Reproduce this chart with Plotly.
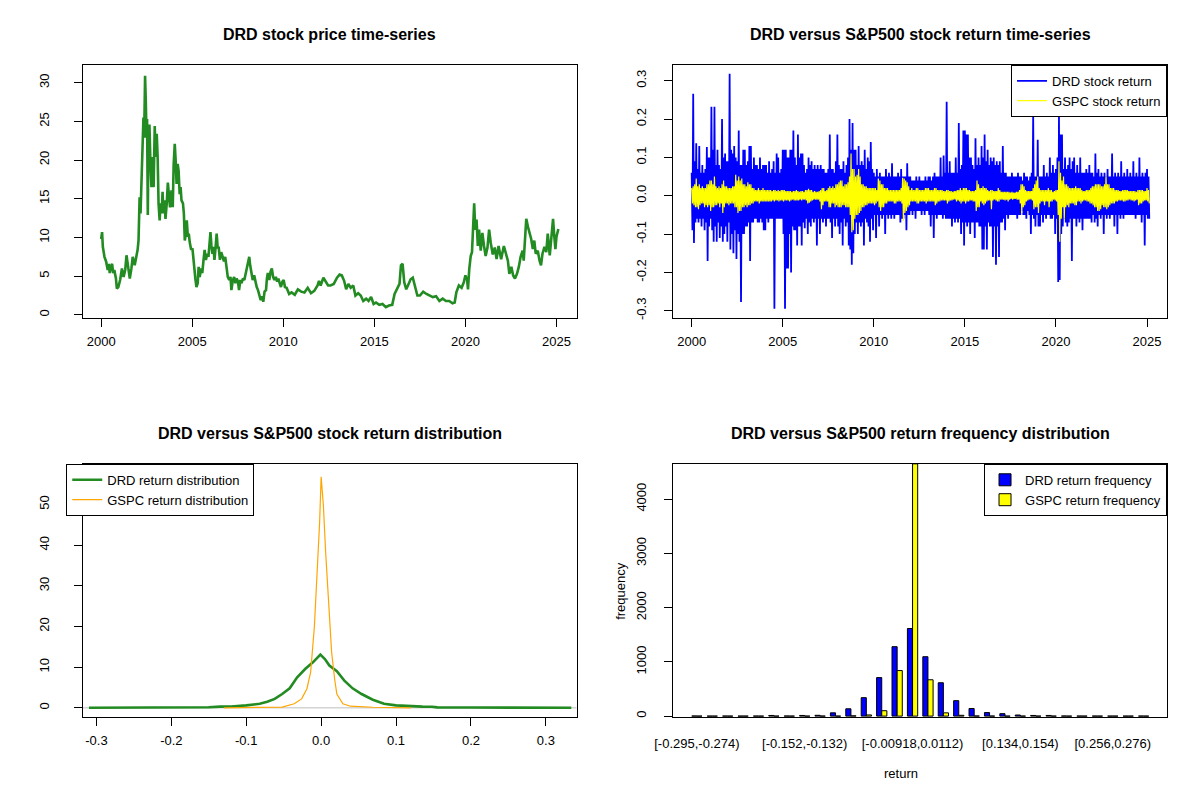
import plotly.graph_objects as go

FONT = "Liberation Sans, Arial, sans-serif"

# ---- DRD closing price (decimal years) ----
price_years = [
    2000.00, 2000.05, 2000.09, 2000.18, 2000.27, 2000.36, 2000.42, 2000.47, 2000.54, 2000.60,
    2000.66, 2000.72, 2000.81, 2000.86, 2000.94, 2001.04, 2001.14, 2001.23, 2001.32, 2001.39,
    2001.48, 2001.57, 2001.66, 2001.73, 2001.84, 2001.93, 2002.00, 2002.05, 2002.11, 2002.16,
    2002.22, 2002.27, 2002.32, 2002.36, 2002.41, 2002.45, 2002.49, 2002.52, 2002.56, 2002.59,
    2002.65, 2002.70, 2002.76, 2002.83, 2002.88, 2002.94, 2002.99, 2003.05, 2003.10, 2003.15,
    2003.21, 2003.26, 2003.32, 2003.37, 2003.42, 2003.48, 2003.53, 2003.60, 2003.66, 2003.73,
    2003.78, 2003.86, 2003.93, 2003.98, 2004.04, 2004.09, 2004.14, 2004.20, 2004.25, 2004.31,
    2004.36, 2004.41, 2004.49, 2004.54, 2004.59, 2004.65, 2004.70, 2004.76, 2004.81, 2004.86,
    2004.94, 2005.01, 2005.06, 2005.12, 2005.17, 2005.23, 2005.30, 2005.35, 2005.41, 2005.48,
    2005.55, 2005.62, 2005.68, 2005.75, 2005.82, 2005.89, 2005.95, 2006.00, 2006.05, 2006.11,
    2006.16, 2006.22, 2006.27, 2006.34, 2006.40, 2006.45, 2006.52, 2006.59, 2006.67, 2006.74,
    2006.81, 2006.88, 2006.95, 2007.03, 2007.10, 2007.15, 2007.23, 2007.30, 2007.37, 2007.44,
    2007.51, 2007.57, 2007.64, 2007.71, 2007.78, 2007.86, 2007.93, 2008.00, 2008.07, 2008.13,
    2008.18, 2008.25, 2008.32, 2008.40, 2008.47, 2008.54, 2008.61, 2008.68, 2008.76, 2008.83,
    2008.90, 2008.97, 2009.05, 2009.10, 2009.15, 2009.23, 2009.30, 2009.37, 2009.44, 2009.51,
    2009.59, 2009.66, 2009.73, 2009.80, 2009.87, 2009.95, 2010.02, 2010.09, 2010.18, 2010.32,
    2010.45, 2010.63, 2010.80, 2010.98, 2011.16, 2011.34, 2011.52, 2011.70, 2011.88, 2011.96,
    2012.05, 2012.20, 2012.32, 2012.46, 2012.59, 2012.77, 2012.95, 2013.09, 2013.21, 2013.34,
    2013.45, 2013.57, 2013.70, 2013.84, 2013.96, 2014.11, 2014.25, 2014.39, 2014.55, 2014.68,
    2014.82, 2014.96, 2015.09, 2015.27, 2015.45, 2015.63, 2015.80, 2015.98, 2016.11, 2016.25,
    2016.38, 2016.46, 2016.55, 2016.64, 2016.75, 2016.88, 2016.99, 2017.11, 2017.23, 2017.36,
    2017.50, 2017.68, 2017.86, 2018.04, 2018.21, 2018.39, 2018.57, 2018.75, 2018.93, 2019.11,
    2019.29, 2019.41, 2019.50, 2019.64, 2019.79, 2019.91, 2020.00, 2020.09, 2020.14, 2020.21,
    2020.29, 2020.36, 2020.43, 2020.48, 2020.54, 2020.61, 2020.68, 2020.75, 2020.84, 2020.93,
    2021.02, 2021.11, 2021.21, 2021.30, 2021.39, 2021.50, 2021.61, 2021.71, 2021.82, 2021.96,
    2022.11, 2022.23, 2022.33, 2022.41, 2022.52, 2022.62, 2022.72, 2022.83, 2022.93, 2023.03,
    2023.14, 2023.20, 2023.28, 2023.34, 2023.43, 2023.51, 2023.61, 2023.70, 2023.78, 2023.86,
    2023.97, 2024.07, 2024.15, 2024.23, 2024.34, 2024.44, 2024.52, 2024.63, 2024.73, 2024.81,
    2024.88, 2024.94, 2025.00, 2025.10,
]
price_values = [
    9.8, 10.7, 8.8, 7.5, 6.9, 5.8, 6.6, 5.4, 6.2, 6.6,
    5.4, 5.8, 4.7, 3.4, 3.6, 4.5, 6.0, 4.9, 5.8, 7.7,
    6.2, 4.7, 6.0, 7.5, 6.4, 7.3, 8.4, 9.6, 15.2, 13.1,
    18.0, 21.6, 25.5, 22.9, 30.9, 27.6, 22.9, 25.3, 12.9, 21.6,
    24.6, 19.9, 16.5, 20.4, 16.5, 24.4, 20.4, 23.4, 20.4, 14.4,
    12.2, 14.4, 13.1, 15.9, 13.1, 14.8, 12.4, 14.4, 17.1, 15.2,
    13.9, 16.1, 13.9, 19.5, 22.1, 19.9, 16.9, 19.5, 18.6, 15.6,
    16.5, 14.8, 14.4, 13.1, 9.6, 10.5, 12.2, 10.1, 10.5, 9.4,
    8.4, 8.6, 7.1, 5.8, 4.7, 3.6, 4.1, 6.2, 4.9, 6.0,
    5.4, 7.1, 8.4, 7.1, 7.9, 7.5, 8.8, 10.7, 9.0, 7.9,
    8.8, 7.1, 8.4, 10.5, 8.6, 8.8, 7.1, 8.1, 7.5, 6.9,
    7.5, 6.2, 4.9, 4.5, 4.9, 3.2, 4.5, 4.9, 4.1, 4.7,
    4.3, 3.2, 4.5, 4.1, 4.7, 4.5, 5.4, 6.0, 6.9, 7.5,
    6.4, 5.4, 4.5, 5.1, 4.3, 3.6, 3.2, 2.6, 1.9, 2.4,
    1.7, 3.0, 3.2, 4.7, 5.4, 4.5, 5.6, 6.0, 4.9, 4.5,
    4.9, 4.3, 4.7, 4.1, 3.6, 4.3, 4.5, 3.6, 3.5, 2.7,
    2.9, 2.6, 3.3, 3.0, 2.9, 3.5, 2.8, 3.1, 3.8, 4.4,
    3.8, 4.8, 4.3, 3.8, 3.8, 4.0, 4.8, 5.2, 5.1, 4.4,
    3.3, 4.0, 3.5, 3.8, 2.5, 2.8, 2.5, 1.8, 2.1, 1.8,
    2.3, 1.4, 1.6, 1.3, 1.4, 1.0, 1.2, 1.3, 2.7, 3.3,
    4.0, 6.4, 6.6, 4.2, 3.3, 4.0, 4.6, 4.8, 3.8, 2.5,
    2.5, 3.0, 2.7, 2.5, 2.3, 2.4, 1.8, 2.1, 1.8, 1.8,
    1.5, 1.6, 2.9, 3.8, 3.5, 4.2, 5.1, 4.6, 3.3, 5.9,
    7.6, 8.1, 11.5, 14.4, 11.0, 12.3, 8.9, 11.0, 8.3, 10.6,
    8.9, 7.6, 8.7, 11.0, 9.3, 7.8, 8.7, 7.2, 8.9, 7.2,
    8.9, 7.8, 7.0, 5.3, 6.2, 5.1, 4.7, 5.3, 6.2, 7.5,
    8.3, 7.0, 10.5, 12.4, 11.4, 10.7, 9.8, 8.5, 9.6, 7.9,
    8.3, 7.0, 6.4, 7.9, 8.8, 8.1, 10.5, 7.7, 10.9, 12.4,
    10.1, 8.5, 10.1, 11.1,
]

# ---- daily returns: highest and lowest reading in each month, Jan 2000 onward ----
return_start = 2000
drd_month_high = [
    0.06, 0.266, 0.09, 0.137, 0.07, 0.13, 0.06, 0.08, 0.06, 0.07, 0.127, 0.1,
    0.1, 0.232, 0.12, 0.232, 0.08, 0.12, 0.08, 0.07, 0.2, 0.1, 0.11, 0.09,
    0.09, 0.318, 0.12, 0.11, 0.13, 0.1, 0.09, 0.17, 0.08, 0.08, 0.12, 0.12,
    0.08, 0.09, 0.13, 0.13, 0.07, 0.1, 0.08, 0.08, 0.07, 0.1, 0.07, 0.08,
    0.08, 0.08, 0.06, 0.09, 0.06, 0.07, 0.09, 0.06, 0.11, 0.1, 0.06, 0.07,
    0.12, 0.12, 0.12, 0.1, 0.1, 0.12, 0.12, 0.17, 0.1, 0.08, 0.16, 0.1,
    0.11, 0.11, 0.08, 0.06, 0.07, 0.1, 0.08, 0.09, 0.07, 0.08, 0.07, 0.08,
    0.07, 0.08, 0.07, 0.07, 0.06, 0.06, 0.07, 0.16, 0.07, 0.07, 0.06, 0.09,
    0.16, 0.08, 0.07, 0.07, 0.09, 0.06, 0.08, 0.1, 0.2, 0.12, 0.19, 0.12,
    0.12, 0.08, 0.13, 0.08, 0.09, 0.08, 0.12, 0.07, 0.1, 0.09, 0.14, 0.07,
    0.06, 0.05, 0.07, 0.05, 0.06, 0.05, 0.05, 0.05, 0.07, 0.05, 0.06, 0.05,
    0.085, 0.05, 0.05, 0.05, 0.06, 0.05, 0.07, 0.05, 0.05, 0.05, 0.085, 0.05,
    0.05, 0.04, 0.04, 0.04, 0.05, 0.04, 0.05, 0.04, 0.04, 0.04, 0.05, 0.04,
    0.05, 0.05, 0.04, 0.05, 0.06, 0.05, 0.05, 0.05, 0.1, 0.05, 0.105, 0.06,
    0.245, 0.06, 0.09, 0.06, 0.06, 0.06, 0.1, 0.06, 0.19, 0.07, 0.08, 0.17,
    0.17, 0.16, 0.16, 0.1, 0.1, 0.08, 0.07, 0.15, 0.08, 0.1, 0.08, 0.13,
    0.1, 0.16, 0.09, 0.12, 0.08, 0.1, 0.09, 0.1, 0.08, 0.09, 0.08, 0.09,
    0.06, 0.13, 0.06, 0.06, 0.05, 0.05, 0.05, 0.06, 0.05, 0.05, 0.05, 0.06,
    0.05, 0.05, 0.04, 0.06, 0.05, 0.05, 0.04, 0.05, 0.06, 0.21, 0.05, 0.05,
    0.146, 0.05, 0.05, 0.05, 0.08, 0.05, 0.06, 0.05, 0.1, 0.06, 0.08, 0.06,
    0.07, 0.1, 0.21, 0.16, 0.16, 0.07, 0.1, 0.07, 0.08, 0.1, 0.07, 0.09,
    0.1, 0.06, 0.08, 0.06, 0.1, 0.06, 0.06, 0.06, 0.07, 0.06, 0.08, 0.06,
    0.06, 0.05, 0.11, 0.06, 0.07, 0.05, 0.06, 0.05, 0.06, 0.05, 0.07, 0.05,
    0.05, 0.11, 0.05, 0.06, 0.05, 0.06, 0.05, 0.09, 0.05, 0.06, 0.05, 0.07,
    0.05, 0.06, 0.05, 0.09, 0.05, 0.06, 0.05, 0.1, 0.05, 0.06, 0.05, 0.06,
    0.07, 0.05,
]
drd_month_low = [
    -0.09, -0.123, -0.07, -0.06, -0.07, -0.06, -0.08, -0.06, -0.09, -0.07, -0.17, -0.08,
    -0.06, -0.09, -0.12, -0.08, -0.12, -0.07, -0.11, -0.08, -0.12, -0.1, -0.08, -0.12,
    -0.07, -0.14, -0.1, -0.15, -0.09, -0.165, -0.1, -0.12, -0.277, -0.1, -0.1, -0.08,
    -0.08, -0.07, -0.17, -0.07, -0.07, -0.06, -0.06, -0.07, -0.07, -0.06, -0.07, -0.09,
    -0.09, -0.06, -0.07, -0.06, -0.06, -0.06, -0.295, -0.06, -0.06, -0.06, -0.06, -0.06,
    -0.1, -0.295, -0.19, -0.19, -0.1, -0.2, -0.08, -0.09, -0.09, -0.13, -0.08, -0.08,
    -0.13, -0.07, -0.085, -0.06, -0.1, -0.07, -0.08, -0.06, -0.07, -0.06, -0.13, -0.06,
    -0.1, -0.06, -0.07, -0.06, -0.08, -0.06, -0.06, -0.07, -0.11, -0.06, -0.08, -0.06,
    -0.08, -0.1, -0.07, -0.13, -0.06, -0.08, -0.07, -0.13, -0.14, -0.18, -0.15, -0.1,
    -0.07, -0.1, -0.07, -0.08, -0.07, -0.13, -0.06, -0.07, -0.08, -0.12, -0.06, -0.09,
    -0.05, -0.11, -0.05, -0.08, -0.05, -0.06, -0.05, -0.1, -0.05, -0.06, -0.05, -0.06,
    -0.05, -0.06, -0.05, -0.05, -0.05, -0.07, -0.06, -0.06, -0.05, -0.09, -0.05, -0.05,
    -0.04, -0.05, -0.04, -0.06, -0.04, -0.04, -0.04, -0.05, -0.04, -0.05, -0.04, -0.04,
    -0.05, -0.08, -0.05, -0.11, -0.05, -0.06, -0.05, -0.05, -0.05, -0.06, -0.05, -0.06,
    -0.06, -0.06, -0.06, -0.08, -0.06, -0.07, -0.06, -0.07, -0.06, -0.1, -0.07, -0.13,
    -0.07, -0.08, -0.07, -0.1, -0.07, -0.07, -0.11, -0.07, -0.07, -0.08, -0.08, -0.14,
    -0.14, -0.08, -0.14, -0.07, -0.08, -0.08, -0.16, -0.08, -0.18, -0.08, -0.16, -0.07,
    -0.07, -0.06, -0.09, -0.05, -0.06, -0.05, -0.05, -0.05, -0.05, -0.05, -0.06, -0.05,
    -0.05, -0.04, -0.05, -0.05, -0.06, -0.04, -0.05, -0.1, -0.05, -0.06, -0.08, -0.05,
    -0.08, -0.08, -0.05, -0.07, -0.05, -0.06, -0.05, -0.05, -0.06, -0.06, -0.05, -0.1,
    -0.06, -0.225, -0.22, -0.1, -0.08, -0.06, -0.07, -0.08, -0.07, -0.06, -0.17, -0.06,
    -0.06, -0.08, -0.06, -0.07, -0.06, -0.09, -0.06, -0.06, -0.06, -0.06, -0.06, -0.07,
    -0.05, -0.07, -0.06, -0.08, -0.05, -0.06, -0.05, -0.1, -0.05, -0.06, -0.05, -0.06,
    -0.05, -0.05, -0.08, -0.05, -0.1, -0.05, -0.06, -0.05, -0.06, -0.05, -0.05, -0.05,
    -0.05, -0.05, -0.05, -0.05, -0.06, -0.05, -0.05, -0.05, -0.07, -0.05, -0.13, -0.05,
    -0.06, -0.06,
]
gspc_month_high = [
    0.02, 0.025, 0.03, 0.045, 0.025, 0.03, 0.02, 0.025, 0.02, 0.02, 0.03, 0.03,
    0.04, 0.04, 0.03, 0.05, 0.025, 0.02, 0.025, 0.02, 0.03, 0.04, 0.025, 0.025,
    0.02, 0.02, 0.02, 0.025, 0.025, 0.055, 0.04, 0.05, 0.04, 0.045, 0.03, 0.03,
    0.025, 0.035, 0.03, 0.03, 0.02, 0.02, 0.015, 0.015, 0.02, 0.015, 0.015, 0.02,
    0.015, 0.015, 0.015, 0.015, 0.015, 0.012, 0.015, 0.015, 0.012, 0.015, 0.012, 0.015,
    0.015, 0.015, 0.012, 0.012, 0.012, 0.012, 0.01, 0.012, 0.012, 0.015, 0.012, 0.01,
    0.012, 0.012, 0.01, 0.015, 0.015, 0.018, 0.015, 0.015, 0.01, 0.012, 0.01, 0.01,
    0.012, 0.015, 0.02, 0.02, 0.012, 0.015, 0.02, 0.025, 0.02, 0.025, 0.02, 0.03,
    0.03, 0.035, 0.04, 0.04, 0.025, 0.03, 0.03, 0.035, 0.05, 0.11, 0.07, 0.07,
    0.05, 0.055, 0.07, 0.05, 0.03, 0.03, 0.025, 0.025, 0.02, 0.02, 0.02, 0.02,
    0.02, 0.02, 0.015, 0.045, 0.04, 0.03, 0.03, 0.02, 0.02, 0.02, 0.015, 0.015,
    0.015, 0.015, 0.015, 0.015, 0.015, 0.015, 0.02, 0.047, 0.045, 0.04, 0.035, 0.025,
    0.015, 0.02, 0.015, 0.015, 0.02, 0.02, 0.015, 0.015, 0.015, 0.015, 0.02, 0.02,
    0.02, 0.015, 0.015, 0.015, 0.02, 0.02, 0.015, 0.015, 0.015, 0.015, 0.012, 0.012,
    0.015, 0.015, 0.012, 0.012, 0.01, 0.012, 0.012, 0.015, 0.015, 0.02, 0.015, 0.02,
    0.02, 0.02, 0.015, 0.015, 0.012, 0.012, 0.012, 0.015, 0.04, 0.03, 0.02, 0.02,
    0.025, 0.02, 0.02, 0.015, 0.012, 0.015, 0.015, 0.012, 0.012, 0.012, 0.02, 0.015,
    0.01, 0.01, 0.01, 0.01, 0.01, 0.01, 0.008, 0.01, 0.008, 0.008, 0.01, 0.01,
    0.015, 0.03, 0.03, 0.025, 0.015, 0.012, 0.012, 0.012, 0.012, 0.02, 0.03, 0.04,
    0.05, 0.02, 0.015, 0.015, 0.015, 0.015, 0.015, 0.02, 0.015, 0.015, 0.01, 0.012,
    0.015, 0.015, 0.09, 0.06, 0.04, 0.05, 0.03, 0.03, 0.025, 0.02, 0.02, 0.02,
    0.02, 0.025, 0.02, 0.02, 0.02, 0.015, 0.012, 0.012, 0.015, 0.015, 0.015, 0.02,
    0.025, 0.025, 0.03, 0.03, 0.03, 0.03, 0.025, 0.025, 0.03, 0.05, 0.03, 0.03,
    0.02, 0.02, 0.02, 0.015, 0.015, 0.015, 0.012, 0.012, 0.015, 0.015, 0.015, 0.015,
    0.012, 0.012, 0.012, 0.012, 0.012, 0.01, 0.015, 0.015, 0.015, 0.015, 0.012, 0.012,
    0.02, 0.015,
]
gspc_month_low = [
    -0.02, -0.025, -0.03, -0.03, -0.035, -0.025, -0.02, -0.02, -0.03, -0.025, -0.03, -0.025,
    -0.04, -0.03, -0.03, -0.025, -0.025, -0.02, -0.03, -0.02, -0.045, -0.03, -0.02, -0.02,
    -0.025, -0.02, -0.02, -0.02, -0.03, -0.03, -0.045, -0.04, -0.04, -0.03, -0.03, -0.025,
    -0.03, -0.025, -0.025, -0.02, -0.02, -0.015, -0.015, -0.015, -0.02, -0.015, -0.015, -0.015,
    -0.015, -0.015, -0.015, -0.015, -0.015, -0.012, -0.015, -0.012, -0.012, -0.015, -0.012, -0.012,
    -0.015, -0.012, -0.012, -0.012, -0.015, -0.012, -0.01, -0.012, -0.012, -0.012, -0.012, -0.01,
    -0.012, -0.01, -0.01, -0.012, -0.02, -0.018, -0.015, -0.012, -0.01, -0.01, -0.01, -0.01,
    -0.015, -0.035, -0.025, -0.015, -0.015, -0.015, -0.03, -0.03, -0.02, -0.02, -0.03, -0.025,
    -0.03, -0.03, -0.03, -0.025, -0.025, -0.03, -0.03, -0.03, -0.05, -0.095, -0.09, -0.06,
    -0.05, -0.05, -0.045, -0.04, -0.03, -0.03, -0.025, -0.025, -0.02, -0.02, -0.02, -0.02,
    -0.025, -0.02, -0.015, -0.03, -0.04, -0.03, -0.03, -0.02, -0.02, -0.015, -0.015, -0.015,
    -0.015, -0.02, -0.02, -0.015, -0.015, -0.015, -0.02, -0.065, -0.045, -0.04, -0.03, -0.025,
    -0.015, -0.015, -0.015, -0.015, -0.02, -0.02, -0.015, -0.015, -0.015, -0.015, -0.02, -0.015,
    -0.015, -0.015, -0.015, -0.015, -0.025, -0.02, -0.015, -0.015, -0.012, -0.012, -0.012, -0.012,
    -0.02, -0.015, -0.012, -0.012, -0.01, -0.01, -0.015, -0.012, -0.015, -0.02, -0.015, -0.015,
    -0.02, -0.015, -0.015, -0.012, -0.012, -0.015, -0.015, -0.04, -0.03, -0.03, -0.015, -0.02,
    -0.025, -0.02, -0.015, -0.012, -0.012, -0.035, -0.012, -0.01, -0.012, -0.015, -0.015, -0.01,
    -0.01, -0.01, -0.012, -0.01, -0.015, -0.01, -0.008, -0.01, -0.008, -0.008, -0.01, -0.01,
    -0.02, -0.045, -0.03, -0.025, -0.015, -0.012, -0.01, -0.01, -0.012, -0.035, -0.03, -0.03,
    -0.045, -0.02, -0.015, -0.015, -0.025, -0.015, -0.015, -0.03, -0.015, -0.015, -0.01, -0.012,
    -0.015, -0.05, -0.12, -0.06, -0.03, -0.06, -0.03, -0.025, -0.03, -0.02, -0.02, -0.02,
    -0.025, -0.025, -0.015, -0.015, -0.02, -0.015, -0.012, -0.012, -0.015, -0.015, -0.02, -0.02,
    -0.025, -0.03, -0.03, -0.04, -0.04, -0.035, -0.025, -0.03, -0.03, -0.035, -0.03, -0.025,
    -0.02, -0.02, -0.02, -0.015, -0.015, -0.012, -0.012, -0.012, -0.015, -0.015, -0.012, -0.012,
    -0.01, -0.012, -0.012, -0.015, -0.012, -0.01, -0.025, -0.02, -0.02, -0.015, -0.012, -0.012,
    -0.015, -0.02,
]

# ---- kernel density readings ----
drd_density_x = [-0.31, -0.25, -0.2, -0.15, -0.135, -0.12, -0.1, -0.09, -0.082, -0.072,
                 -0.062, -0.052, -0.042, -0.032, -0.021, -0.011, -0.001, 0.005, 0.011,
                 0.021, 0.031, 0.042, 0.054, 0.069, 0.084, 0.1, 0.11, 0.12, 0.135, 0.148,
                 0.155, 0.2, 0.25, 0.334]
drd_density_y = [0.02, 0.05, 0.08, 0.15, 0.3, 0.35, 0.6, 0.75, 1.0, 1.5,
                 2.2, 3.4, 4.8, 7.5, 9.6, 11.2, 13.1, 12.0, 10.4,
                 9.0, 6.7, 4.8, 3.4, 2.0, 1.0, 0.6, 0.5, 0.35, 0.3, 0.28,
                 0.12, 0.08, 0.05, 0.02]
gspc_density_x = [-0.13, -0.094, -0.052, -0.036, -0.026, -0.019, -0.014, -0.009, -0.005,
                  -0.002, 0.0, 0.003, 0.006, 0.01, 0.014, 0.018, 0.021, 0.029, 0.039,
                  0.069, 0.092, 0.12]
gspc_density_y = [0.0, 0.1, 0.2, 1.0, 2.2, 4.7, 8.8, 20.0, 33.0,
                  45.7, 56.8, 49.8, 38.3, 24.3, 13.7, 7.1, 3.4, 1.0, 0.4,
                  0.15, 0.05, 0.0]

# ---- return frequency by bin ----
bin_edges = ["-0.295", "-0.274", "-0.254", "-0.234", "-0.213", "-0.193", "-0.172", "-0.152",
             "-0.132", "-0.111", "-0.0908", "-0.0704", "-0.05", "-0.0296", "-0.00918",
             "0.0112", "0.0316", "0.052", "0.0724", "0.0928", "0.113", "0.134", "0.154",
             "0.174", "0.195", "0.215", "0.236", "0.256", "0.276", "0.297", "0.317"]
drd_freq = [2, 0, 1, 0, 1, 12, 2, 12, 15, 60, 135, 340, 710, 1280, 1615,
            1095, 615, 285, 140, 65, 45, 20, 12, 12, 2, 1, 1, 0, 0, 1]
gspc_freq = [0, 0, 0, 0, 0, 0, 0, 0, 1, 0, 5, 22, 100, 840, 4650,
             670, 60, 15, 3, 1, 0, 0, 0, 0, 0, 0, 0, 0, 0, 0]
shown_bins = [0, 7, 14, 21, 27]

bin_labels = []
for i in range(len(bin_edges) - 1):
    close = "]" if i == len(bin_edges) - 2 else ")"
    bin_labels.append("[" + bin_edges[i] + "," + bin_edges[i + 1] + close)


def month_path(highs, lows):
    # high early in the month, low in the second half -> the dense band of daily returns
    xs, ys = [], []
    for i, (hi, lo) in enumerate(zip(highs, lows)):
        xs += [return_start + i / 12, return_start + (i + 0.5) / 12]
        ys += [hi, lo]
    return xs, ys


drd_x, drd_y = month_path(drd_month_high, drd_month_low)
gspc_x, gspc_y = month_path(gspc_month_high, gspc_month_low)

fig = go.Figure()

fig.add_trace(go.Scatter(x=price_years, y=price_values, mode="lines",
                         line=dict(color="#228B22", width=2.6),
                         showlegend=False, xaxis="x", yaxis="y"))

fig.add_trace(go.Scatter(x=drd_x, y=drd_y, mode="lines",
                         line=dict(color="#0000FF", width=1.8),
                         name="DRD stock return", legend="legend",
                         xaxis="x2", yaxis="y2"))
fig.add_trace(go.Scatter(x=gspc_x, y=gspc_y, mode="lines",
                         line=dict(color="#FFFF00", width=1.2),
                         name="GSPC stock return", legend="legend",
                         xaxis="x2", yaxis="y2"))

fig.add_trace(go.Scatter(x=drd_density_x, y=drd_density_y, mode="lines",
                         line=dict(color="#228B22", width=2.6),
                         name="DRD return distribution", legend="legend2",
                         xaxis="x3", yaxis="y3"))
fig.add_trace(go.Scatter(x=gspc_density_x, y=gspc_density_y, mode="lines",
                         line=dict(color="#FFA500", width=1.2),
                         name="GSPC return distribution", legend="legend2",
                         xaxis="x3", yaxis="y3"))

fig.add_trace(go.Bar(x=bin_labels, y=drd_freq, name="DRD return frequency",
                     marker=dict(color="#0000FF", line=dict(color="black", width=1)),
                     legend="legend3", xaxis="x4", yaxis="y4"))
fig.add_trace(go.Bar(x=bin_labels, y=gspc_freq, name="GSPC return frequency",
                     marker=dict(color="#FFFF00", line=dict(color="black", width=1)),
                     legend="legend3", xaxis="x4", yaxis="y4"))

col1 = [65 / 1200, 566.5 / 1200]
col2 = [665 / 1200, 1166.5 / 1200]
row1 = [1 - 319 / 800, 1 - 65 / 800]
row2 = [1 - 719 / 800, 1 - 465 / 800]

tick_font = dict(family=FONT, size=13, color="black")
axis_style = dict(showline=True, mirror=True, linecolor="black", linewidth=1,
                  ticks="outside", ticklen=8, tickcolor="black", tickwidth=1,
                  showgrid=False, zeroline=False, tickfont=tick_font)
yleft_style = dict(axis_style, tickangle=-90, ticklabelstandoff=20)
yright_style = dict(axis_style, tickangle=-90, ticklabelstandoff=13)
xaxis_style = dict(axis_style, ticklabelstandoff=3)

year_ticks = [2000, 2005, 2010, 2015, 2020, 2025]
ret_ticks = [-0.3, -0.2, -0.1, 0.0, 0.1, 0.2, 0.3]
ret_text = ["-0.3", "-0.2", "-0.1", "0.0", "0.1", "0.2", "0.3"]

legend_style = dict(bgcolor="white", bordercolor="black", borderwidth=1,
                    font=dict(family=FONT, size=13, color="black"),
                    tracegroupgap=0, itemwidth=30)

fig.update_layout(
    width=1200, height=800,
    margin=dict(l=0, r=0, t=0, b=0),
    paper_bgcolor="white", plot_bgcolor="white",
    font=dict(family=FONT, size=13, color="black"),
    barmode="group", bargap=1 / 3, bargroupgap=0,
    xaxis=dict(xaxis_style, domain=col1, anchor="y", range=[1999.0, 2026.1],
               tickvals=year_ticks),
    yaxis=dict(yleft_style, domain=row1, anchor="x", range=[-0.43, 32.3],
               tickvals=[0, 5, 10, 15, 20, 25, 30]),
    xaxis2=dict(xaxis_style, domain=col2, anchor="y2", range=[1999.0, 2026.1],
                tickvals=year_ticks),
    yaxis2=dict(yright_style, domain=row1, anchor="x2", range=[-0.3195, 0.3415],
                tickvals=ret_ticks, ticktext=ret_text),
    xaxis3=dict(xaxis_style, domain=col1, anchor="y3", range=[-0.318, 0.341],
                tickvals=ret_ticks, ticktext=ret_text),
    yaxis3=dict(yleft_style, domain=row2, anchor="x3", range=[-2.3, 60.0],
                tickvals=[0, 10, 20, 30, 40, 50]),
    xaxis4=dict(xaxis_style, domain=col2, anchor="y4", type="category",
                range=[-1.52, 30.52], ticks="", ticklabelstandoff=14,
                tickvals=[bin_labels[i] for i in shown_bins],
                ticktext=[bin_labels[i] for i in shown_bins]),
    yaxis4=dict(yright_style, domain=row2, anchor="x4", range=[-20, 4650],
                tickvals=[0, 1000, 2000, 3000, 4000]),
    legend=dict(legend_style, x=col2[1], xanchor="right", y=row1[1], yanchor="top"),
    legend2=dict(legend_style, x=(65 - 17) / 1200, xanchor="left", y=row2[1], yanchor="top"),
    legend3=dict(legend_style, x=col2[1], xanchor="right", y=row2[1], yanchor="top"),
    shapes=[dict(type="line", xref="x3 domain", yref="y3", x0=0, x1=1, y0=0, y1=0,
                 line=dict(color="#BEBEBE", width=1), layer="below")],
)

titles = [
    ("DRD stock price time-series", col1, 35),
    ("DRD versus S&P500 stock return time-series", col2, 35),
    ("DRD versus S&P500 stock return distribution", col1, 435),
    ("DRD versus S&P500 return frequency distribution", col2, 435),
]
for text, col, ypix in titles:
    fig.add_annotation(text="<b>" + text + "</b>", xref="paper", yref="paper",
                       x=(col[0] + col[1]) / 2, y=1 - ypix / 800, showarrow=False,
                       xanchor="center", yanchor="middle",
                       font=dict(family=FONT, size=16, color="black"))

fig.add_annotation(text="return", xref="paper", yref="paper", x=(col2[0] + col2[1]) / 2,
                   y=1 - 775 / 800, showarrow=False, yanchor="middle",
                   font=dict(family=FONT, size=13, color="black"))
fig.add_annotation(text="frequency", xref="paper", yref="paper", x=611 / 1200,
                   y=(row2[0] + row2[1]) / 2, showarrow=False, textangle=-90,
                   xanchor="center", yanchor="middle",
                   font=dict(family=FONT, size=13, color="black"))

fig.write_html("out.html", config={"displayModeBar": False},
               post_script="document.body.style.margin='0';")
